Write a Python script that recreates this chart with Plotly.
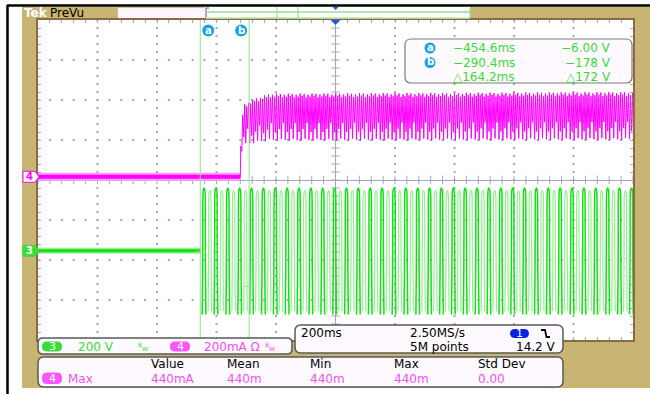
import numpy as np
import plotly.graph_objects as go

X_RANGE_MS = [-1000, 1000]          # 200 ms/div, 10 divisions
Y_RANGE_DIV = [-4, 4]               # 8 vertical divisions
CURSOR_T_MS = [-454.6, -290.4]      # cursors a, b
CURSOR_V = [-6.00, -178.0]          # ch3 value at cursors
CURSOR_NAMES = ["a", "b"]
CH3_VOLTS_PER_DIV = 200

CH3_BASE_DIV = -1.77                # ch3 ground marker / flat part
CH3_START_MS = -454.6               # mains switched on
CH3_FIRST_STROKE_MS = -448.0
CH3_GROUP_MS = 39.9                 # repeat length of the on-screen stroke pattern
CH3_AMP_DIV = 1.58
CH3_CENTER_DIV = -1.78
# strokes inside one repeat group: (phases, levels)
CH3_BRIGHT_STROKES = [([0.00, 0.035, 0.05, 0.08, 0.155, 0.23, 0.26, 0.275, 0.31],
                       [-1.0, -0.35, 0.30, 0.96, 1.0, 0.96, 0.30, -0.35, -1.0])]
CH3_PALE_STROKES = [([0.50, 0.53, 0.545, 0.57, 0.645, 0.72, 0.745, 0.76, 0.79],
                     [-0.95, -0.30, 0.30, 0.92, 0.96, 0.92, 0.30, -0.30, -0.95])]

CH4_BASE_DIV = 0.08                 # ch4 ground marker / flat part
CH4_RISE_MS = -320.0
CH4_ENV_T_MS = [-320, -317, -306, -272, -222, 1000]
CH4_ENV_GAIN = [0.0, 0.65, 0.86, 0.92, 0.98, 1.0]
CH4_SUB_TOP_DIV = [2.20, 2.14, 2.19, 2.10, 2.17, 2.12]
CH4_SUB_BOT_DIV = [1.00, 1.30, 1.05, 1.45, 1.02, 1.22]

READOUT_COL1 = ["\u2212454.6ms", "\u2212290.4ms", "\u25b3164.2ms"]
READOUT_COL2 = ["\u22126.00 V", "\u2212178 V", "\u25b3172 V"]
MEAS_HEADERS = ["Value", "Mean", "Min", "Max", "Std Dev"]
MEAS_VALUES = ["440mA", "440m", "440m", "440m", "0.00"]

# ---------------- colours / geometry ----------------
TAN = "#C8B473"
BROWN = "#8B6B43"
GRID = "#A4A6BC"
GREEN = "#12E012"
GREEN_TXT = "#3AD83A"
PALE_GREEN = "#8CE68C"
MAG = "#FF00FF"
MAG_TXT = "#F050F0"
CYAN = "#19A3E6"
BOXFILL = "#FFFAFF"
BOXLINE = "#5A5A5A"
FONT = "DejaVu Sans"

L, R, T, B = 38, 633, 20, 340
W, H = R - L, B - T


def PX(x):
    return (x - L) / W


def PY(y):
    return (B - y) / H


def rrect_path(x0, y0, x1, y1, r):
    pts = [
        f"M {PX(x0 + r)},{PY(y0)}", f"L {PX(x1 - r)},{PY(y0)}",
        f"Q {PX(x1)},{PY(y0)} {PX(x1)},{PY(y0 + r)}", f"L {PX(x1)},{PY(y1 - r)}",
        f"Q {PX(x1)},{PY(y1)} {PX(x1 - r)},{PY(y1)}", f"L {PX(x0 + r)},{PY(y1)}",
        f"Q {PX(x0)},{PY(y1)} {PX(x0)},{PY(y1 - r)}", f"L {PX(x0)},{PY(y0 + r)}",
        f"Q {PX(x0)},{PY(y0)} {PX(x0 + r)},{PY(y0)}", "Z"]
    return " ".join(pts)


shapes = []
annos = []


def rect(x0, y0, x1, y1, fill, line=None, lw=0, layer="below"):
    shapes.append(dict(type="rect", xref="paper", yref="paper",
                       x0=PX(x0), x1=PX(x1), y0=PY(y1), y1=PY(y0),
                       fillcolor=fill, line=dict(color=line or fill, width=lw),
                       layer=layer))


def rbox(x0, y0, x1, y1, r, fill, line, lw=1.5, layer="above"):
    shapes.append(dict(type="path", xref="paper", yref="paper",
                       path=rrect_path(x0, y0, x1, y1, r), fillcolor=fill,
                       line=dict(color=line, width=lw), layer=layer))


def seg(x0, y0, x1, y1, color, lw=1, layer="above"):
    shapes.append(dict(type="line", xref="paper", yref="paper",
                       x0=PX(x0), x1=PX(x1), y0=PY(y0), y1=PY(y1),
                       line=dict(color=color, width=lw), layer=layer))


def txt(s, x, y, color, size=12, anchor="left", bold=False):
    if bold:
        s = f"<b>{s}</b>"
    annos.append(dict(text=s, xref="paper", yref="paper", x=PX(x), y=PY(y),
                      xanchor=anchor, yanchor="middle", showarrow=False,
                      font=dict(family=FONT, size=size, color=color),
                      borderpad=0))


def circ(cx, cy, r, fill, letter):
    shapes.append(dict(type="circle", xref="paper", yref="paper",
                       x0=PX(cx - r), x1=PX(cx + r), y0=PY(cy + r), y1=PY(cy - r),
                       fillcolor=fill, line=dict(color=fill, width=0), layer="above"))
    txt(letter, cx, cy - 0.5, "white", size=10, anchor="center", bold=True)


def pill(x0, y0, x1, y1, fill, label):
    rbox(x0, y0, x1, y1, 5, fill, fill, lw=0)
    txt(label, (x0 + x1) / 2, (y0 + y1) / 2, "white", size=11, anchor="center")


def div_to_py(v):
    return B - (v - Y_RANGE_DIV[0]) / (Y_RANGE_DIV[1] - Y_RANGE_DIV[0]) * H


def ms_to_px(t):
    return L + (t - X_RANGE_MS[0]) / (X_RANGE_MS[1] - X_RANGE_MS[0]) * W


# ---------------- frame / background ----------------
rect(22, 7, 650, 388, TAN)
rect(L, T, R, B, "white")
rect(118, 8, 205, 18.5, "#FFF6FF", line="#E8D8E8", lw=0.5)
rect(205, 7, 470, 19, "white")
seg(7.5, 5, 7.5, 394, "black", 2.5)
seg(7, 5.5, 650, 5.5, "black", 2.5)
txt("Tek", 23, 13, "white", size=12, bold=True)
txt("PreVu", 49, 13, "black", size=12)
# record view bar
seg(206, 8, 206, 18, "#909090", 1.5)
seg(206, 8, 209, 8, "#909090", 1.5)
seg(206, 12, 470, 12, PALE_GREEN, 1.5)
seg(206, 18, 470, 18, "#B8F0B8", 1.5)
seg(470, 8, 470, 18, PALE_GREEN, 1)
seg(277, 7, 277, 19, PALE_GREEN, 1.2)
seg(298, 7, 298, 19, PALE_GREEN, 1.2)
cx0 = ms_to_px(0)
shapes.append(dict(type="path", xref="paper", yref="paper",
                   path=f"M {PX(cx0-3)},{PY(7)} L {PX(cx0+3)},{PY(7)} L {PX(cx0)},{PY(10)} Z",
                   fillcolor="#1E5AE6", line=dict(width=0), layer="above"))
shapes.append(dict(type="path", xref="paper", yref="paper",
                   path=f"M {PX(cx0-5)},{PY(20)} L {PX(cx0+5)},{PY(20)} L {PX(cx0)},{PY(25)} Z",
                   fillcolor="#1E5AE6", line=dict(width=0), layer="above"))

# channel ground markers
for lvl, col, filled, lab in [(CH4_BASE_DIV, MAG, False, "4"), (CH3_BASE_DIV, "#3ADC3A", True, "3")]:
    yc = div_to_py(lvl)
    p = (f"M {PX(23)},{PY(yc-5.5)} L {PX(35)},{PY(yc-5.5)} L {PX(39)},{PY(yc)} "
         f"L {PX(35)},{PY(yc+5.5)} L {PX(23)},{PY(yc+5.5)} Z")
    shapes.append(dict(type="path", xref="paper", yref="paper", path=p,
                       fillcolor=col if filled else "white",
                       line=dict(color=col, width=1), layer="above"))
    txt(lab, 29.5, yc, "white" if filled else col, size=10, anchor="center", bold=True)

# cursor circles at top
circ(ms_to_px(CURSOR_T_MS[0]) + 8, 30.5, 6, CYAN, CURSOR_NAMES[0])
circ(ms_to_px(CURSOR_T_MS[1]) - 8, 30.5, 6, CYAN, CURSOR_NAMES[1])

# readout box
rbox(405, 39, 632, 83, 6, BOXFILL, "#7A7A7A", lw=1.2)
rows_y = [48, 62.5, 77]
for i, yy in enumerate(rows_y):
    if i < 2:
        circ(430, yy, 5.5, CYAN, CURSOR_NAMES[i])
    txt(READOUT_COL1[i], 452, yy, GREEN_TXT, size=12)
    txt(READOUT_COL2[i], 612, yy, GREEN_TXT, size=12, anchor="right")

# channel box
rbox(38, 338, 292, 354, 5, BOXFILL, BOXLINE)
pill(42, 341.5, 62, 351.5, "#3ADC3A", "3")
txt("200 V", 77, 346.5, GREEN_TXT, size=12)
txt("B", 136.5, 344.5, GREEN_TXT, size=6)
txt("W", 140.5, 348, GREEN_TXT, size=6)
pill(170, 341.5, 190, 351.5, "#FF55FF", "4")
txt("200mA \u03a9", 203, 346.5, MAG_TXT, size=12)
txt("B", 263.5, 344.5, MAG_TXT, size=6)
txt("W", 267.5, 348, MAG_TXT, size=6)

# timebase box
rbox(295, 325, 563, 353, 6, BOXFILL, BOXLINE)
txt("200ms", 300, 333, "black", size=12)
txt("2.50MS/s", 409, 333, "black", size=12)
txt("5M points", 409, 347, "black", size=12)
pill(510, 329, 529, 338, "#0A20E0", "1")
shapes.append(dict(type="path", xref="paper", yref="paper",
                   path=f"M {PX(541)},{PY(330)} L {PX(545)},{PY(330)} L {PX(546.5)},{PY(337)} L {PX(550)},{PY(337)}",
                   line=dict(color="black", width=1.8), layer="above"))
txt("14.2 V", 557, 347, "black", size=12, anchor="right")

# measurement box
rbox(38, 357, 563, 387, 6, BOXFILL, BOXLINE)
cols_x = [150, 226, 309, 393, 477]
for x, h, v in zip(cols_x, MEAS_HEADERS, MEAS_VALUES):
    txt(h, x, 364, "black", size=12)
    txt(v, x, 378.5, MAG_TXT, size=12)
pill(42, 372.5, 62, 384, "#FF55FF", "4")
txt("Max", 67, 378.5, MAG_TXT, size=12)

# ---------------- traces ----------------
fig = go.Figure()

# graticule dots (computed from the axis ranges)
gx, gy = [], []
for xm in range(X_RANGE_MS[0] + 200, X_RANGE_MS[1], 200):
    if xm == 0:
        continue
    for yv in np.arange(Y_RANGE_DIV[0], Y_RANGE_DIV[1] + 1e-9, 0.2):
        gx.append(xm); gy.append(yv)
for yv in range(Y_RANGE_DIV[0] + 1, Y_RANGE_DIV[1]):
    if yv == 0:
        continue
    for xm in np.arange(X_RANGE_MS[0], X_RANGE_MS[1] + 1e-9, 40):
        gx.append(xm); gy.append(yv)
fig.add_trace(go.Scatter(x=gx, y=gy, mode="markers", hoverinfo="skip",
                         marker=dict(symbol="square", size=2, color=GRID, line=dict(width=0))))
# centre-line ticks
tx = np.arange(X_RANGE_MS[0], X_RANGE_MS[1] + 1e-9, 40)
fig.add_trace(go.Scatter(x=tx, y=np.zeros_like(tx), mode="markers", hoverinfo="skip",
                         marker=dict(symbol="line-ns", size=6, line=dict(color=GRID, width=1))))
ty = np.arange(Y_RANGE_DIV[0], Y_RANGE_DIV[1] + 1e-9, 0.2)
fig.add_trace(go.Scatter(x=np.zeros_like(ty), y=ty, mode="markers", hoverinfo="skip",
                         marker=dict(symbol="line-ew", size=6, line=dict(color=GRID, width=1))))

# ch4 flat part
for w, c in [(8, "#FF9CFF"), (4, MAG)]:
    fig.add_trace(go.Scatter(x=[X_RANGE_MS[0], CH4_RISE_MS], y=[CH4_BASE_DIV, CH4_BASE_DIV],
                             mode="lines", line=dict(color=c, width=w), hoverinfo="skip"))
# ch4 after the step
n_sub = len(CH4_SUB_TOP_DIV)
sub_p = CH3_GROUP_MS / n_sub
t4, v4 = [CH4_RISE_MS], [CH4_BASE_DIV]
k = 0
while True:
    t_top = CH4_RISE_MS + (k + 0.25) * sub_p
    if t_top > X_RANGE_MS[1] + 10:
        break
    j = k % n_sub
    for tt, lv in [(t_top, CH4_SUB_TOP_DIV[j]), (t_top + 0.5 * sub_p, CH4_SUB_BOT_DIV[j])]:
        g = np.interp(tt, CH4_ENV_T_MS, CH4_ENV_GAIN)
        t4.append(tt)
        v4.append(CH4_BASE_DIV + g * (lv - CH4_BASE_DIV))
    k += 1
fig.add_trace(go.Scatter(x=t4, y=v4, mode="lines", hoverinfo="skip",
                         line=dict(color=MAG, width=1)))

# ch3 flat part
for w, c in [(6, "#9CF09C"), (3, GREEN)]:
    fig.add_trace(go.Scatter(x=[X_RANGE_MS[0], CH3_START_MS], y=[CH3_BASE_DIV, CH3_BASE_DIV],
                             mode="lines", line=dict(color=c, width=w), hoverinfo="skip"))


def build_strokes(strokes):
    xs, ys = [], []
    k = 0
    while CH3_FIRST_STROKE_MS + k * CH3_GROUP_MS < X_RANGE_MS[1] + 50:
        for phases, levels in strokes:
            for ph, lv in zip(phases, levels):
                xs.append(CH3_FIRST_STROKE_MS + (k + ph) * CH3_GROUP_MS)
                ys.append(CH3_CENTER_DIV + CH3_AMP_DIV * lv)
            xs.append(None); ys.append(None)
        k += 1
    return xs, ys


xp, yp = build_strokes(CH3_PALE_STROKES)
fig.add_trace(go.Scatter(x=xp, y=yp, mode="lines", hoverinfo="skip", connectgaps=False,
                         line=dict(color="#96EE96", width=1.2, shape="spline", smoothing=0.6)))
xb, yb = build_strokes(CH3_BRIGHT_STROKES)
fig.add_trace(go.Scatter(x=xb, y=yb, mode="lines", hoverinfo="skip", connectgaps=False,
                         line=dict(color=GREEN, width=1.5, shape="spline", smoothing=0.6)))

# cursors
for tc, vc in zip(CURSOR_T_MS, CURSOR_V):
    fig.add_trace(go.Scatter(x=[tc, tc], y=Y_RANGE_DIV, mode="lines", hoverinfo="skip",
                             line=dict(color=PALE_GREEN, width=1)))
    lv = CH3_BASE_DIV + vc / CH3_VOLTS_PER_DIV
    fig.add_trace(go.Scatter(x=[tc - 18, tc + 18], y=[lv, lv], mode="lines", hoverinfo="skip",
                             line=dict(color=PALE_GREEN, width=1)))

axis_common = dict(showticklabels=False, showgrid=False, zeroline=True,
                   zerolinecolor=GRID, zerolinewidth=1,
                   ticks="inside", ticklen=3, tickcolor=GRID, tickwidth=1,
                   showline=True, linecolor=BROWN, linewidth=1.5, mirror="ticks",
                   fixedrange=True)
fig.update_xaxes(range=X_RANGE_MS, dtick=200, tick0=0,
                 minor=dict(ticks="inside", ticklen=3, dtick=40, tickcolor=GRID),
                 **axis_common)
fig.update_yaxes(range=Y_RANGE_DIV, dtick=1, tick0=0,
                 minor=dict(ticks="inside", ticklen=3, dtick=0.2, tickcolor=GRID),
                 **axis_common)

fig.update_layout(width=650, height=394,
                  margin=dict(l=L, r=650 - R, t=T, b=394 - B),
                  paper_bgcolor="white", plot_bgcolor="rgba(0,0,0,0)",
                  showlegend=False, shapes=shapes, annotations=annos,
                  font=dict(family=FONT))
fig.write_html("out.html")
